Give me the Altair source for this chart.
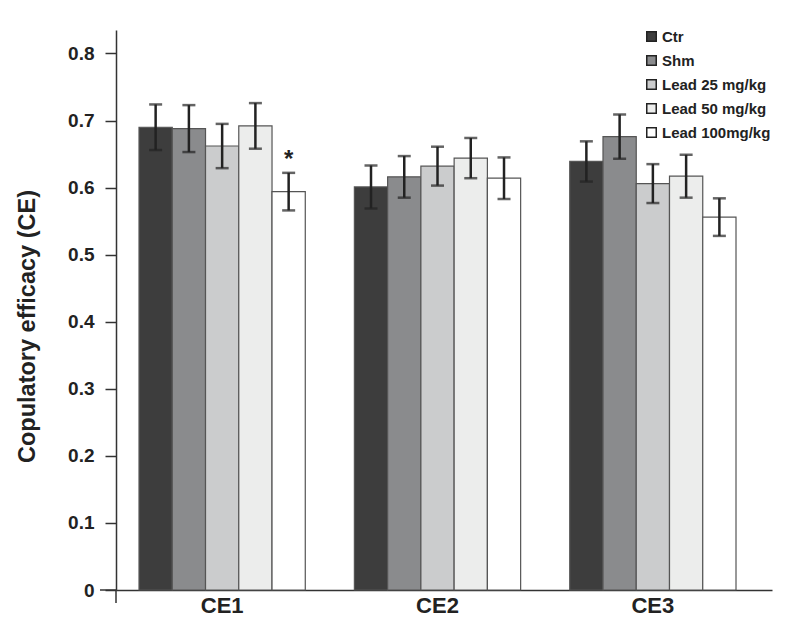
import altair as alt
import pandas as pd

categories = ["CE1", "CE2", "CE3"]
groups = ["Ctr", "Shm", "Lead 25 mg/kg", "Lead 50 mg/kg", "Lead 100mg/kg"]
colors = ["#3d3d3d", "#8a8b8d", "#cbcccd", "#ecedec", "#ffffff"]
means = {
    "CE1": [0.690, 0.688, 0.662, 0.692, 0.594],
    "CE2": [0.601, 0.616, 0.632, 0.644, 0.614],
    "CE3": [0.639, 0.676, 0.606, 0.617, 0.556],
}
errors = {
    "CE1": [0.034, 0.035, 0.033, 0.034, 0.028],
    "CE2": [0.032, 0.031, 0.029, 0.030, 0.031],
    "CE3": [0.030, 0.033, 0.029, 0.032, 0.028],
}
star_cat, star_group, star_y = "CE1", "Lead 100mg/kg", 0.641

rows = []
for c in categories:
    for g, m, e in zip(groups, means[c], errors[c]):
        rows.append({"cat": c, "group": g, "mean": m, "lo": m - e, "hi": m + e})
df = pd.DataFrame(rows)
star_df = pd.DataFrame([{"cat": star_cat, "group": star_group, "y": star_y, "t": "*"}])

FONT = "Liberation Sans"
INK = "#222222"

x_scale = alt.Scale(paddingInner=0.228, paddingOuter=0.137, align=0.39)
x_enc = alt.X("cat:N", sort=categories, title=None, scale=x_scale,
              axis=alt.Axis(labelAngle=0, labelFont=FONT, labelFontWeight="bold",
                            labelFontSize=22, labelColor=INK, ticks=False,
                            labelPadding=5, domainColor="#333", domainWidth=1.5))
xoff = alt.XOffset("group:N", sort=groups, scale=alt.Scale(paddingInner=0, paddingOuter=0))
y_scale = alt.Scale(domain=[0, 0.835], nice=False)

base = alt.Chart(df)

bars = base.mark_bar(stroke="#555555", strokeWidth=1.2).encode(
    x=x_enc,
    xOffset=xoff,
    y=alt.Y("mean:Q", scale=y_scale, title="Copulatory efficacy (CE)",
            axis=alt.Axis(values=[0, 0.1, 0.2, 0.3, 0.4, 0.5, 0.6, 0.7, 0.8],
                          labelExpr="datum.value == 0 ? '0' : format(datum.value, '.1f')",
                          grid=False, tickSize=11, tickColor="#333", tickWidth=1.5,
                          domainColor="#333", domainWidth=1.5,
                          labelFont=FONT, labelFontWeight="bold", labelFontSize=19,
                          labelColor=INK, labelPadding=11,
                          titleFont=FONT, titleFontWeight="bold", titleFontSize=23.5,
                          titleColor=INK, titleX=-77, titleY=296)),
    fill=alt.Fill("group:N", sort=groups, scale=alt.Scale(domain=groups, range=colors),
                  legend=alt.Legend(title=None, orient="none", legendX=528, legendY=-1,
                                    symbolType="square", symbolSize=90,
                                    symbolStrokeColor=INK, symbolStrokeWidth=1.5,
                                    labelFont=FONT, labelFontWeight="bold",
                                    labelFontSize=15, labelColor=INK,
                                    labelOffset=3, rowPadding=7)),
)

rules = base.mark_rule(color=INK, strokeWidth=2.5).encode(
    x=alt.X("cat:N", sort=categories, scale=x_scale), xOffset=xoff,
    y=alt.Y("lo:Q", scale=y_scale), y2="hi:Q",
)
caps_hi = base.mark_tick(color=INK, thickness=2.5, size=13).encode(
    x=alt.X("cat:N", sort=categories, scale=x_scale), xOffset=xoff,
    y=alt.Y("hi:Q", scale=y_scale),
)
caps_lo = base.mark_tick(color=INK, thickness=2.5, size=13).encode(
    x=alt.X("cat:N", sort=categories, scale=x_scale), xOffset=xoff,
    y=alt.Y("lo:Q", scale=y_scale),
)
star = alt.Chart(star_df).mark_text(font=FONT, fontWeight="bold", fontSize=24,
                                    color=INK, baseline="middle").encode(
    x=alt.X("cat:N", sort=categories, scale=x_scale),
    xOffset=alt.XOffset("group:N", sort=groups),
    y=alt.Y("y:Q", scale=y_scale), text="t:N",
)

# small axis extensions past the origin, as in the original figure
ext_y = alt.Chart(star_df).mark_rule(color="#333", strokeWidth=1.5).encode(
    x=alt.value(0), y=alt.value(560), y2=alt.value(573))
ext_x = alt.Chart(star_df).mark_rule(color="#333", strokeWidth=1.5).encode(
    x=alt.value(-16), x2=alt.value(0), y=alt.value(560))

chart = alt.layer(bars, rules, caps_hi, caps_lo, star, ext_y, ext_x).properties(
    width=656, height=560,
    padding={"left": 108, "top": 22, "right": 5, "bottom": 40},
    autosize="none",
).configure(background="white").configure_view(stroke=None)

chart.save("out.html", embed_options={"renderer": "svg", "actions": False})
